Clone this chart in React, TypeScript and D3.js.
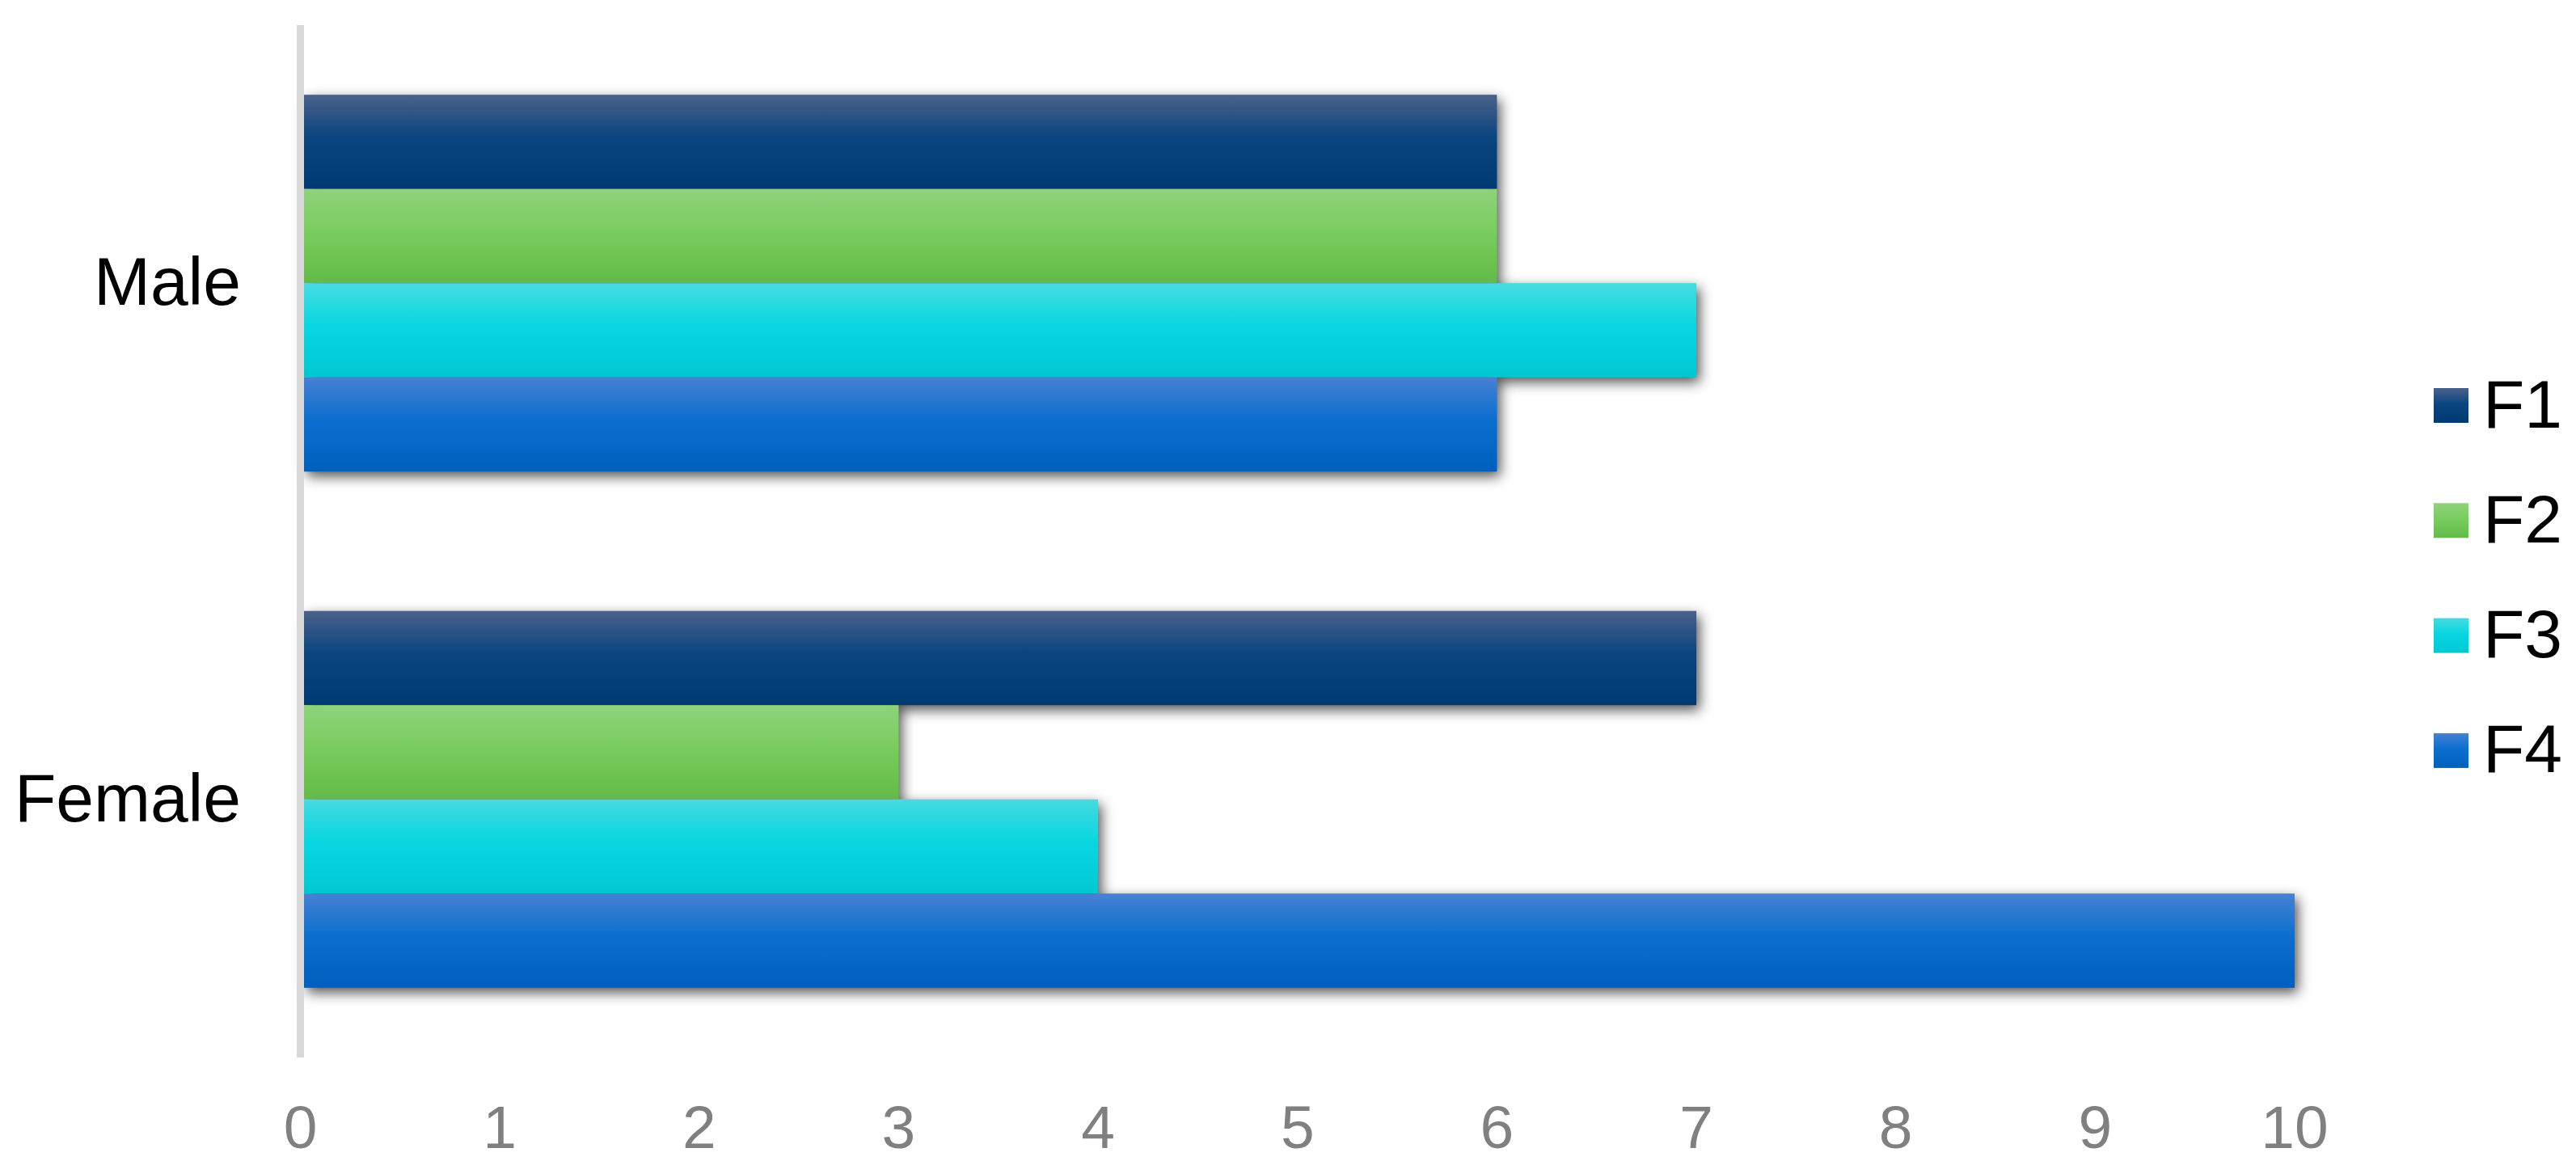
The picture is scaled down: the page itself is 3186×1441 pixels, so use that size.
import React from 'react';
import * as d3 from 'd3';

const categories = ['Male', 'Female'];
const seriesNames = ['F1', 'F2', 'F3', 'F4'];
const maleValues = [6, 6, 7, 6];
const femaleValues = [7, 3, 4, 10];
const xTicks = [0, 1, 2, 3, 4, 5, 6, 7, 8, 9, 10];

// gradient stops per series: top, middle, bottom
const seriesGradients = [
  ['#4b6189', '#0a4580', '#003a72'],
  ['#8fd27c', '#79cd5e', '#63ba48'],
  ['#46dbe1', '#08d6e0', '#00c8d3'],
  ['#4781d3', '#0b6fcf', '#005fbd'],
];

const W = 3186;
const H = 1441;
const FONT = 'Arial, "Liberation Sans", sans-serif';

const App = () => {
  const valuesByCat = [maleValues, femaleValues];

  const x = d3.scaleLinear().domain([0, 10]).range([371.5, 2838]);

  const y0 = d3
    .scaleBand()
    .domain(categories)
    .range([31, 1308])
    .paddingInner(0.27)
    .paddingOuter(0.135);

  const y1 = d3.scaleBand().domain(seriesNames).range([0, y0.bandwidth()]);

  const bars = categories.flatMap((cat, ci) =>
    seriesNames.map((s, si) => ({
      key: `${cat}-${s}`,
      si,
      x0: x(0) + 4.5,
      x1: x(valuesByCat[ci][si]),
      y: (y0(cat) || 0) + (y1(s) || 0),
      h: y1.bandwidth(),
    }))
  );

  const legendTop = 501.5;
  const legendStep = 142.3;

  return (
    <svg
      width={W}
      height={H}
      style={{ position: 'absolute', left: 0, top: 0, background: '#fff' }}
    >
      <defs>
        {seriesGradients.map((g, i) => (
          <linearGradient key={i} id={`grad${i}`} x1="0" y1="0" x2="0" y2="1">
            <stop offset="0%" stopColor={g[0]} />
            <stop offset="45%" stopColor={g[1]} />
            <stop offset="100%" stopColor={g[2]} />
          </linearGradient>
        ))}
        <filter id="shadow" x="-10%" y="-40%" width="120%" height="190%">
          <feGaussianBlur in="SourceAlpha" stdDeviation="8" />
          <feOffset dx="4" dy="6" result="blur" />
          <feFlood floodColor="#000" floodOpacity="0.68" />
          <feComposite in2="blur" operator="in" />
        </filter>
      </defs>

      <rect width={W} height={H} fill="#fff" />

      {/* shadows first so bars never get darkened by neighbours */}
      <g filter="url(#shadow)">
        {bars.map(b => (
          <rect key={b.key} x={b.x0} y={b.y} width={b.x1 - b.x0} height={b.h} fill="#000" />
        ))}
      </g>

      <g>
        {bars.map(b => (
          <rect
            key={b.key}
            x={b.x0}
            y={b.y}
            width={b.x1 - b.x0}
            height={b.h}
            fill={`url(#grad${b.si})`}
          />
        ))}
      </g>

      {/* vertical axis line */}
      <rect x={x(0) - 4.5} y={31} width={9} height={1308 - 31} fill="#d9d9d9" />

      {/* category labels */}
      {categories.map(cat => (
        <text
          key={cat}
          x={298}
          y={(y0(cat) || 0) + y0.bandwidth() / 2 + 27}
          textAnchor="end"
          fontFamily={FONT}
          fontSize={84}
          fill="#000"
        >
          {cat}
        </text>
      ))}

      {/* x tick labels */}
      {xTicks.map(t => (
        <text
          key={t}
          x={x(t)}
          y={1420}
          textAnchor="middle"
          fontFamily={FONT}
          fontSize={75}
          fill="#808080"
        >
          {t}
        </text>
      ))}

      {/* legend */}
      {seriesNames.map((s, i) => {
        const cy = legendTop + i * legendStep;
        return (
          <g key={s}>
            <rect x={3010} y={cy - 21.5} width={43} height={43} fill={`url(#grad${i})`} />
            <text x={3071} y={cy + 27} fontFamily={FONT} fontSize={84} fill="#000">
              {s}
            </text>
          </g>
        );
      })}
    </svg>
  );
};

export default App;
